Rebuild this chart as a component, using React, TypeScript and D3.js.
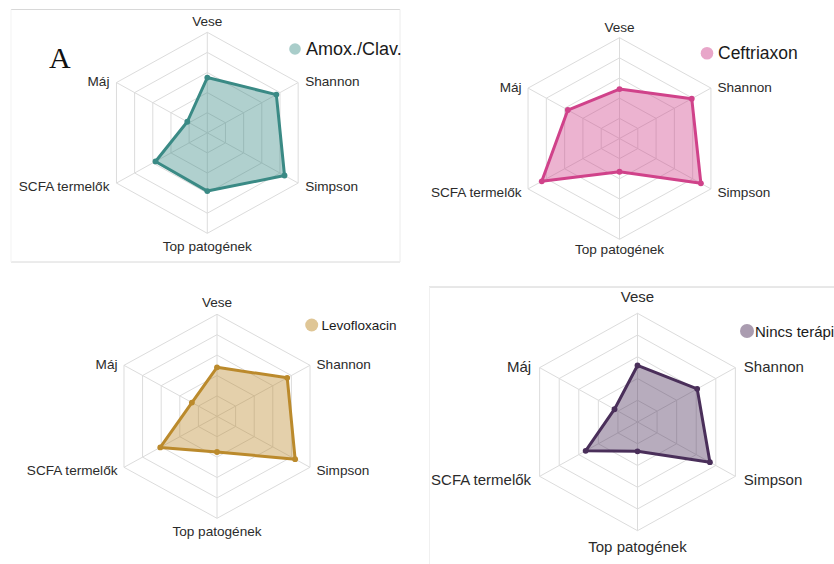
import React from "react";
import * as d3 from "d3";

const axes = ["Vese", "Shannon", "Simpson", "Top patogének", "SCFA termelők", "Máj"];
const seriesNames = ["Amox./Clav.", "Ceftriaxon", "Levofloxacin", "Nincs terápia"];
const amoxValues = [0.55, 0.76, 0.85, 0.58, 0.57, 0.22];
const ceftValues = [0.49, 0.79, 0.89, 0.33, 0.85, 0.565];
const levoValues = [0.48, 0.755, 0.84, 0.35, 0.61, 0.27];
const ninValues = [0.52, 0.61, 0.74, 0.27, 0.53, 0.235];
const seriesValues = [amoxValues, ceftValues, levoValues, ninValues];
const gridLevels = [0.2, 0.4, 0.6, 0.8, 1.0];

const strokeColors = ["#3a8a85", "#d0428a", "#bb8a2c", "#4a2f5a"];
const legendColors = ["#a9cdca", "#e8a6c9", "#dfc696", "#aa9cb0"];

// layout per panel
const panels = [
  { cx: 207.3, cy: 132.8, ry: 100.5, rx: 104.9, fs: 13.6, padV: 11, padB: 13, padS: 7, lx: 295, ly: 49, lr: 5.8, lfs: 18, ltx: 306 },
  { cx: 619.5, cy: 138.5, ry: 100.8, rx: 105.6, fs: 13.6, padV: 10.5, padB: 10.5, padS: 6.5, lx: 707, ly: 53.3, lr: 6.3, lfs: 17.5, ltx: 718 },
  { cx: 217, cy: 416.3, ry: 102, rx: 107.4, fs: 13.6, padV: 11.5, padB: 13, padS: 6.5, lx: 311.7, ly: 325, lr: 6.5, lfs: 13.5, ltx: 321.5 },
  { cx: 637.5, cy: 422, ry: 108.7, rx: 113, fs: 15, padV: 16.5, padB: 16, padS: 8.5, lx: 747, ly: 331, lr: 7, lfs: 15, ltx: 755 },
];

const FONT = "Liberation Sans, Arial, sans-serif";

function Radar({ idx }: { idx: number }) {
  const p = panels[idx];
  const values = seriesValues[idx];
  const angle = d3.scaleLinear().domain([0, axes.length]).range([0, 2 * Math.PI]);
  const rScale = d3.scaleLinear().domain([0, 1]).range([0, 1]);
  const pt = (i: number, v: number): [number, number] => {
    const a = angle(i);
    const r = rScale(v);
    return [p.cx + Math.sin(a) * r * p.rx, p.cy - Math.cos(a) * r * p.ry];
  };
  const line = d3.line<[number, number]>().curve(d3.curveLinearClosed);
  const dataPts = values.map((v, i) => pt(i, v));
  const stroke = strokeColors[idx];

  return (
    <g>
      {gridLevels.map((lv) => (
        <path
          key={lv}
          d={line(axes.map((_, i) => pt(i, lv))) || ""}
          fill="none"
          stroke="#dcdcdc"
          strokeWidth={1}
        />
      ))}
      {axes.map((_, i) => {
        const [x, y] = pt(i, 1);
        return <line key={i} x1={p.cx} y1={p.cy} x2={x} y2={y} stroke="#dcdcdc" strokeWidth={1} />;
      })}
      <path d={line(dataPts) || ""} fill={stroke} fillOpacity={0.4} stroke="none" />
      <path d={line(dataPts) || ""} fill="none" stroke={stroke} strokeWidth={3} strokeLinejoin="round" />
      {dataPts.map(([x, y], i) => (
        <circle key={i} cx={x} cy={y} r={2.9} fill={stroke} />
      ))}
      {axes.map((name, i) => {
        const [x, y] = pt(i, 1);
        let tx = x;
        let ty = y;
        let anchor: "start" | "middle" | "end" = "middle";
        if (i === 0) {
          ty = y - p.padV;
        } else if (i === 3) {
          ty = y + p.padB;
        } else {
          const right = i < 3;
          anchor = right ? "start" : "end";
          tx = x + (right ? p.padS : -p.padS);
          ty = y + (i === 1 || i === 5 ? -1 : 3.5);
        }
        return (
          <text
            key={name}
            x={tx}
            y={ty}
            textAnchor={anchor}
            dominantBaseline="central"
            fontFamily={FONT}
            fontSize={p.fs}
            fill="#2b2b2b"
          >
            {name}
          </text>
        );
      })}
      <circle cx={p.lx} cy={p.ly} r={p.lr} fill={legendColors[idx]} />
      <text
        x={p.ltx}
        y={p.ly}
        dominantBaseline="central"
        fontFamily={FONT}
        fontSize={p.lfs}
        fill="#1a1a1a"
      >
        {seriesNames[idx]}
      </text>
    </g>
  );
}

export default function App() {
  return (
    <svg
      width={834}
      height={564}
      style={{ position: "absolute", left: 0, top: 0, background: "#fff" }}
    >
      <rect x={0} y={0} width={834} height={564} fill="#fff" />
      {/* panel A frame */}
      <line x1={11} y1={9.5} x2={400} y2={9.5} stroke="#d8d8d8" />
      <line x1={11} y1={262} x2={400} y2={262} stroke="#d8d8d8" />
      <line x1={400} y1={9.5} x2={400} y2={262} stroke="#ececec" />
      <line x1={11} y1={9.5} x2={11} y2={262} stroke="#f3f3f3" />
      {/* panel D frame */}
      <line x1={429} y1={287} x2={834} y2={287} stroke="#d0d0d0" />
      <line x1={429.5} y1={287} x2={429.5} y2={564} stroke="#f0f0f0" />
      {[0, 1, 2, 3].map((i) => (
        <Radar key={i} idx={i} />
      ))}
      <text x={49} y={68} fontFamily="Liberation Serif, Times New Roman, serif" fontSize={30} fill="#111">
        A
      </text>
    </svg>
  );
}
